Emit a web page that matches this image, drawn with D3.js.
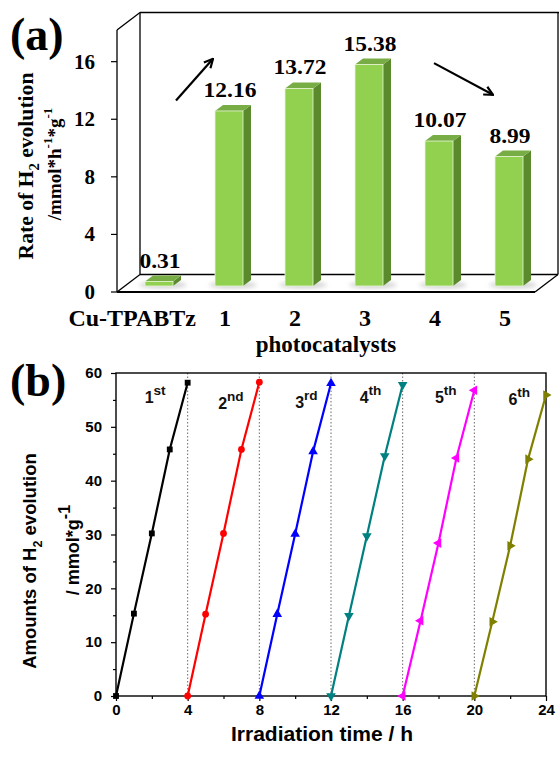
<!DOCTYPE html>
<meta charset="utf-8">
<style>
body { margin: 0; background: #fff; }
svg { display: block; }
.serif { font-family: "Liberation Serif", "Times New Roman", serif; font-weight: bold; }
.sans { font-family: "Liberation Sans", Arial, sans-serif; font-weight: bold; }
</style>
<svg width="559" height="757"></svg>
<script src="https://cdn.jsdelivr.net/npm/d3@7/dist/d3.min.js"></script>
<script>

// ---- panel (a) data
var catalysts = ["Cu-TPABTz", "1", "2", "3", "4", "5"];
var rates = [0.31, 12.16, 13.72, 15.38, 10.07, 8.99];
var rateTicks = [0, 4, 8, 12, 16];

// ---- panel (b) data
var cycleNames = ["1", "2", "3", "4", "5", "6"];
var cycleSuffix = ["st", "nd", "rd", "th", "th", "th"];
var cycleStart = [0, 4, 8, 12, 16, 20];
var cycleHours = [0, 1, 2, 3, 4];
var cycle1 = [0, 15.3, 30.2, 45.8, 58.2];
var cycle2 = [0, 15.2, 30.2, 45.8, 58.3];
var cycle3 = [0, 15.2, 30.1, 45.4, 58.1];
var cycle4 = [0, 14.9, 29.7, 44.6, 57.8];
var cycle5 = [0, 14.0, 28.4, 44.2, 56.8];
var cycle6 = [0, 13.8, 27.9, 44.0, 55.9];
var cycles = [cycle1, cycle2, cycle3, cycle4, cycle5, cycle6];
var timeTicks = [0, 4, 8, 12, 16, 20, 24];
var amountTicks = [0, 10, 20, 30, 40, 50, 60];

// styles
var cycleColors = ["#000000", "#ff0000", "#0000ff", "#008080", "#ff00ff", "#808000"];
var cycleSymbols = ["square", "circle", "up", "down", "left", "right"];
// label offsets (hours after cycle start, amount) for the "1st".."6th" tags
var labelDx = [1.6, 1.7, 2.0, 1.6, 1.8, 1.9];
var labelY = [54.4, 53.3, 53.5, 54.4, 54.4, 54.0];

var svg = d3.select("svg");

// helper: text with sub/superscripts; parts = [[string, "n"|"sub"|"sup"], ...]
function rich(sel, parts, size, ratio) {
  var prev = 0;
  ratio = ratio || 0.68;
  parts.forEach(function(p) {
    var shift = p[1] == "sub" ? 0.3 * size : p[1] == "sup" ? -0.5 * size : 0;
    sel.append("tspan")
        .attr("dy", shift - prev)
        .style("font-size", (p[1] == "n" ? size : size * ratio) + "px")
        .text(p[0]);
    prev = shift;
  });
  return sel;
}

// =================== panel (a) ===================
var A = {left: 117, right: 535, bottom: 292, top: 30, dx: 23, dy: -17.5};
var yA = d3.scaleLinear().domain([0, 18.2]).range([A.bottom, A.top]);
var xA = d3.scaleBand().domain(catalysts).range([117, 537]);
var barW = 28, bdx = 8, bdy = -6, shiftX = 7, shiftY = -6;

var ga = svg.append("g");

// 3D box frame
var frame = [
  [A.left + A.dx, A.top + A.dy, 559, A.top + A.dy],
  [A.left + A.dx, A.top + A.dy, A.left + A.dx, A.bottom + A.dy],
  [A.left + A.dx, A.bottom + A.dy, A.right + A.dx, A.bottom + A.dy],
  [A.right + A.dx, A.top + A.dy, A.right + A.dx, A.bottom + A.dy],
  [A.left, A.top, A.left + A.dx, A.top + A.dy],
  [A.left, A.top, A.left, A.bottom],
  [A.left, A.bottom, A.left + A.dx, A.bottom + A.dy],
  [A.left, A.bottom, A.right, A.bottom],
  [A.right, A.bottom, A.right + A.dx, A.bottom + A.dy]
];
ga.selectAll(".frame").data(frame).enter().append("line")
    .attr("x1", function(d) { return d[0]; })
    .attr("y1", function(d) { return d[1]; })
    .attr("x2", function(d) { return d[2]; })
    .attr("y2", function(d) { return d[3]; })
    .attr("stroke", "#000")
    .attr("stroke-width", function(d, i) { return i == 7 ? 2 : 1.3; });

var defs = svg.append("defs");
defs.append("filter").attr("id", "blur")
  .append("feGaussianBlur").attr("stdDeviation", 2);

var bars = ga.selectAll(".bar")
    .data(catalysts.map(function(c, i) { return {cat: c, v: rates[i]}; }))
  .enter().append("g");

function xl(d) { return xA(d.cat) + xA.bandwidth() / 2 - barW / 2 + shiftX; }
function yb() { return yA(0) + shiftY; }
function yt(d) { return yA(d.v) + shiftY; }

bars.append("ellipse")
    .attr("cx", function(d) { return xl(d) + barW / 2 + 4; })
    .attr("cy", function() { return yb() - 1; })
    .attr("rx", 24).attr("ry", 3.5)
    .attr("fill", "#b8b8b8")
    .attr("opacity", 0.6)
    .attr("filter", "url(#blur)");

bars.append("polygon")
    .attr("points", function(d) {
      var x = xl(d) + barW;
      return [[x, yt(d)], [x + bdx, yt(d) + bdy], [x + bdx, yb() + bdy], [x, yb()]].join(" ");
    })
    .attr("fill", "#5b8a2d");

bars.append("polygon")
    .attr("points", function(d) {
      var x = xl(d);
      return [[x, yt(d)], [x + bdx, yt(d) + bdy], [x + barW + bdx, yt(d) + bdy], [x + barW, yt(d)]].join(" ");
    })
    .attr("fill", "#78ad45");

bars.append("rect")
    .attr("x", xl)
    .attr("y", yt)
    .attr("width", barW)
    .attr("height", function(d) { return yb() - yt(d); })
    .attr("fill", "#92d050")
    .attr("stroke", "#e6f5d6")
    .attr("stroke-width", 0.8);

bars.append("text")
    .attr("class", "serif")
    .attr("text-anchor", "middle")
    .attr("transform", function(d) {
      return "translate(" + (xl(d) + barW / 2 + 1) + "," + (yt(d) - 14) + ") scale(1.12,1)";
    })
    .style("font-size", "21px")
    .text(function(d) { return d3.format(".2f")(d.v); });

// y ticks and labels
ga.selectAll(".ytick").data(rateTicks).enter().append("line")
    .attr("x1", A.left - 6).attr("x2", A.left)
    .attr("y1", yA).attr("y2", yA)
    .attr("stroke", "#000").attr("stroke-width", 1.2);
ga.selectAll(".ylab").data(rateTicks).enter().append("text")
    .attr("class", "serif")
    .attr("text-anchor", "end")
    .attr("x", A.left - 22)
    .attr("y", function(d) { return yA(d) + 7; })
    .style("font-size", "21px")
    .text(function(d) { return d; });

// category labels
ga.selectAll(".xcat").data(catalysts).enter().append("text")
    .attr("class", "serif")
    .attr("text-anchor", function(d, i) { return i == 0 ? "end" : "middle"; })
    .attr("x", function(d, i) { return xA(d) + xA.bandwidth() / 2 + (i == 0 ? 44 : 3); })
    .attr("y", 326)
    .style("font-size", "24px")
    .text(function(d) { return d; });

ga.append("text")
    .attr("class", "serif")
    .attr("text-anchor", "middle")
    .attr("x", 326).attr("y", 352)
    .style("font-size", "23px")
    .text("photocatalysts");

// y title
rich(ga.append("text")
    .attr("class", "serif")
    .attr("text-anchor", "middle")
    .attr("transform", "translate(33,166) rotate(-90) scale(1.03,1)"),
    [["Rate of H", "n"], ["2", "sub"], [" evolution", "n"]], 21);
rich(ga.append("text")
    .attr("class", "serif")
    .attr("text-anchor", "middle")
    .attr("transform", "translate(61,164) rotate(-90)"),
    [["/mmol*h", "n"], ["-1", "sup"], ["*g", "n"], ["-1", "sup"]], 19);

// trend arrows
defs.append("marker")
    .attr("id", "head")
    .attr("viewBox", "0 0 10 10")
    .attr("refX", 9).attr("refY", 5)
    .attr("markerWidth", 5).attr("markerHeight", 5)
    .attr("orient", "auto")
  .append("path")
    .attr("d", "M1,1 L9,5 L1,9")
    .attr("fill", "none")
    .attr("stroke", "#000")
    .attr("stroke-width", 2);

var cx0 = xA("Cu-TPABTz") + xA.bandwidth() / 2, cx1 = xA("1") + xA.bandwidth() / 2;
var cx3 = xA("3") + xA.bandwidth() / 2, cx5 = xA("5") + xA.bandwidth() / 2;
var arrows = [
  [cx0 + 24, yA(13.3), cx1 - 9, yA(16.2)],
  [cx3 + 72, yA(15.9), cx5 - 9, yA(13.7)]
];
ga.selectAll(".arrow").data(arrows).enter().append("line")
    .attr("x1", function(d) { return d[0]; })
    .attr("y1", function(d) { return d[1]; })
    .attr("x2", function(d) { return d[2]; })
    .attr("y2", function(d) { return d[3]; })
    .attr("stroke", "#000")
    .attr("stroke-width", 2.2)
    .attr("marker-end", "url(#head)");

ga.append("text")
    .attr("class", "serif")
    .attr("x", 10).attr("y", 50)
    .style("font-size", "46px")
    .text("(a)");

// =================== panel (b) ===================
var xB = d3.scaleLinear().domain([0, 24]).range([116, 546]);
var yB = d3.scaleLinear().domain([0, 60]).range([696, 373]);
var gb = svg.append("g");

// dotted cycle separators
gb.selectAll(".sep").data(cycleStart.slice(1)).enter().append("line")
    .attr("x1", xB).attr("x2", xB)
    .attr("y1", yB(60)).attr("y2", yB(0))
    .attr("stroke", "#444")
    .attr("stroke-width", 0.8)
    .attr("stroke-dasharray", "1.5,2");

// frame
gb.append("rect")
    .attr("x", xB(0)).attr("y", yB(60))
    .attr("width", xB(24) - xB(0)).attr("height", yB(0) - yB(60))
    .attr("fill", "none").attr("stroke", "#000").attr("stroke-width", 1.4);

function styleAxis(g) {
  g.select(".domain").remove();
  g.selectAll("line").attr("stroke", "#000").attr("stroke-width", 1.2);
  g.selectAll("text").attr("class", "sans").style("font-size", "15px").attr("fill", "#000");
}

gb.append("g")
    .attr("transform", "translate(" + xB(0) + ",0)")
    .call(d3.axisLeft(yB).tickValues([5, 15, 25, 35, 45, 55]).tickSize(3).tickFormat(""))
    .call(styleAxis);
gb.append("g")
    .attr("transform", "translate(" + xB(0) + ",0)")
    .call(d3.axisLeft(yB).tickValues(amountTicks).tickSize(5).tickPadding(9))
    .call(styleAxis);
gb.append("g")
    .attr("transform", "translate(0," + yB(0) + ")")
    .call(d3.axisBottom(xB).tickValues([2, 6, 10, 14, 18, 22]).tickSize(3).tickFormat(""))
    .call(styleAxis);
gb.append("g")
    .attr("transform", "translate(0," + yB(0) + ")")
    .call(d3.axisBottom(xB).tickValues(timeTicks).tickSize(5).tickPadding(3))
    .call(styleAxis);

var line = d3.line()
    .x(function(d) { return xB(d[0]); })
    .y(function(d) { return yB(d[1]); });

function symbolPath(kind) {
  if (kind == "square") return d3.symbol(d3.symbolSquare, 34)();
  if (kind == "circle") return d3.symbol(d3.symbolCircle, 36)();
  return d3.symbol(d3.symbolTriangle, 40)();
}
var symbolRotate = {square: 0, circle: 0, up: 0, down: 180, left: -90, right: 90};

cycles.forEach(function(vals, i) {
  var pts = cycleHours.map(function(h, j) { return [cycleStart[i] + h, vals[j]]; });
  var g = gb.append("g");
  g.append("path")
      .attr("d", line(pts))
      .attr("fill", "none")
      .attr("stroke", cycleColors[i])
      .attr("stroke-width", 2.2);
  g.selectAll("path.pt").data(pts).enter().append("path")
      .attr("class", "pt")
      .attr("d", symbolPath(cycleSymbols[i]))
      .attr("transform", function(d) {
        return "translate(" + xB(d[0]) + "," + yB(d[1]) + ") rotate(" + symbolRotate[cycleSymbols[i]] + ")";
      })
      .attr("fill", cycleColors[i]);

  rich(g.append("text")
      .attr("class", "sans")
      .attr("x", xB(cycleStart[i] + labelDx[i]))
      .attr("y", yB(labelY[i]))
      .attr("fill", "#111"),
      [[cycleNames[i], "n"], [cycleSuffix[i], "sup"]], 16, 0.85);
});

// titles
rich(gb.append("text")
    .attr("class", "sans")
    .attr("text-anchor", "middle")
    .attr("transform", "translate(36,561) rotate(-90)"),
    [["Amounts of H", "n"], ["2", "sub"], [" evolution", "n"]], 18.5);
rich(gb.append("text")
    .attr("class", "sans")
    .attr("text-anchor", "middle")
    .attr("transform", "translate(79,550) rotate(-90)"),
    [["/ mmol*g", "n"], ["-1", "sup"]], 18, 0.9);

gb.append("text")
    .attr("class", "sans")
    .attr("text-anchor", "middle")
    .attr("x", 322).attr("y", 741)
    .style("font-size", "21px")
    .text("Irradiation time / h");

gb.append("text")
    .attr("class", "serif")
    .attr("x", 10).attr("y", 396)
    .style("font-size", "46px")
    .text("(b)");

</script>
